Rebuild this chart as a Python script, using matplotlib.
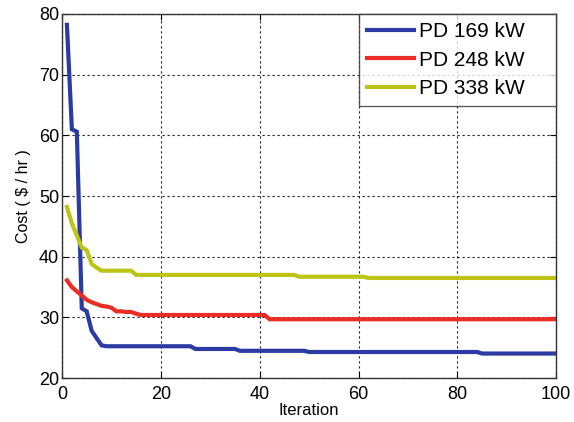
import numpy as np
import matplotlib
matplotlib.use("Agg")
import matplotlib.pyplot as plt

plt.rcParams['font.family'] = ['Liberation Sans', 'DejaVu Sans']

# Best cost per iteration, stored as (value, repeat count) runs
blue_vals = [78.2, 61.0, 60.6, 31.5, 31.0, 27.8, 26.6, 25.4, 25.25, 24.8, 24.5, 24.3, 24.05]
blue_reps = [1, 1, 1, 1, 1, 1, 1, 1, 18, 9, 14, 35, 16]

red_vals = [36.1, 35.0, 34.3, 33.6, 32.9, 32.5, 32.2, 31.9, 31.8, 31.6, 31.0, 30.9, 30.6, 30.4, 29.7]
red_reps = [1, 1, 1, 1, 1, 1, 1, 1, 1, 1, 2, 2, 1, 26, 59]

yellow_vals = [48.2, 45.5, 43.5, 41.5, 41.1, 38.8, 38.2, 37.7, 37.0, 36.7, 36.5]
yellow_reps = [1, 1, 1, 1, 1, 1, 1, 7, 33, 14, 39]

labels = ['PD 169 kW', 'PD 248 kW', 'PD 338 kW']
colors = ['#2b3ba3', '#ea2e26', '#bcc416']

series = [np.repeat(blue_vals, blue_reps),
          np.repeat(red_vals, red_reps),
          np.repeat(yellow_vals, yellow_reps)]

fig = plt.figure(figsize=(5.74, 4.22), dpi=100)
ax = fig.add_axes([0.108, 0.104, 0.861, 0.863])

for y, lab, c in zip(series, labels, colors):
    it = np.arange(1, len(y) + 1)
    ax.plot(it, y, color=c, lw=3.0, label=lab, solid_joinstyle='miter')

ax.set_xlim(0, 100)
ax.set_ylim(20, 80)
ax.set_xticks(np.arange(0, 101, 20))
ax.set_yticks(np.arange(20, 81, 10))
ax.grid(True, color='#222222', linestyle=(0, (2, 2.5)), linewidth=0.8)
ax.tick_params(direction='in', top=True, right=True, labelsize=13, length=4)
ax.tick_params(axis='x', pad=6)
ax.tick_params(axis='y', pad=2)
for s in ax.spines.values():
    s.set_linewidth(1.0)
    s.set_color('#333333')

ax.set_xlabel('Iteration', fontsize=12, labelpad=0)
ax.set_ylabel('Cost ( \\$ / hr )', fontsize=11.5, labelpad=6)

# wide legend box anchored in the upper-right corner, entries left-aligned
leg_w = 0.40
leg = ax.legend(loc='upper right', bbox_to_anchor=(1 - leg_w, 0, leg_w, 1), mode='expand',
                fontsize=15, handlelength=2.25, borderaxespad=0,
                frameon=True, fancybox=False, edgecolor='#333333',
                borderpad=0.4, labelspacing=0.45, handletextpad=0.25)
leg.get_frame().set_linewidth(1.0)

fig.savefig('out.png', dpi=100)
